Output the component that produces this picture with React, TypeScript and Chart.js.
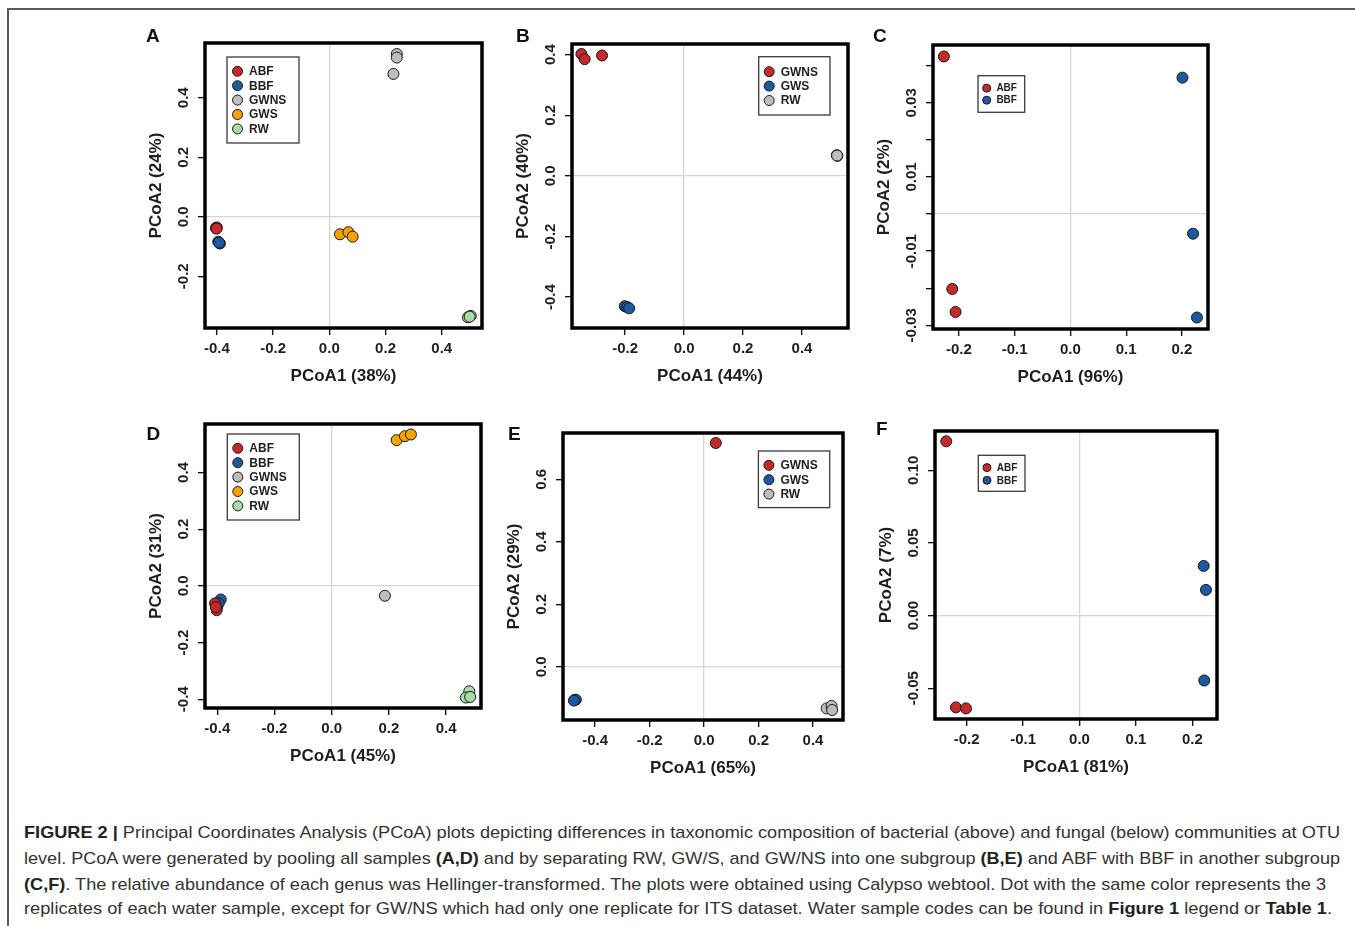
import React, { useEffect, useLayoutEffect, useRef } from "react";
import { Chart, registerables } from "chart.js";
Chart.register(...registerables);

// ---------- colours ----------
const RED = "#c42a2c";
const BLUE = "#1b5a9f";
const GRAY = "#bdbdbd";
const ORANGE = "#f5a200";
const GREEN = "#a8dca6";
const TEXT = "#1e1e1e";
const FAMILY = '"Liberation Sans", Arial, Helvetica, sans-serif';

// ---------- Panel A (bacteria, all samples) ----------
const aGroups = ["ABF", "BBF", "GWNS", "GWS", "RW"];
const aABF = [[-0.403, -0.038], [-0.4, -0.036], [-0.401, -0.04]];
const aBBF = [[-0.395, -0.084], [-0.389, -0.09], [-0.392, -0.087]];
const aGWNS = [[0.24, 0.547], [0.24, 0.535], [0.228, 0.48]];
const aGWS = [[0.038, -0.059], [0.068, -0.052], [0.083, -0.067]];
const aRW = [[0.493, -0.338], [0.503, -0.333], [0.499, -0.336]];
const aXTicks = [-0.4, -0.2, 0, 0.2, 0.4];
const aYTicks = [-0.2, 0, 0.2, 0.4];

// ---------- Panel B (bacteria, RW / GW subgroup) ----------
const bGroups = ["GWNS", "GWS", "RW"];
const bGWNS = [[-0.348, 0.402], [-0.337, 0.385], [-0.278, 0.397]];
const bGWS = [[-0.201, -0.43], [-0.193, -0.433], [-0.186, -0.437]];
const bRW = [[0.518, 0.068], [0.52, 0.066], [0.519, 0.067]];
const bXTicks = [-0.2, 0, 0.2, 0.4];
const bYTicks = [-0.4, -0.2, 0, 0.2, 0.4];

// ---------- Panel C (bacteria, ABF / BBF subgroup) ----------
const cGroups = ["ABF", "BBF"];
const cABF = [[-0.227, 0.0425], [-0.212, -0.0202], [-0.206, -0.0264]];
const cBBF = [[0.201, 0.0368], [0.22, -0.0053], [0.227, -0.0279]];
const cXTicks = [-0.2, -0.1, 0, 0.1, 0.2];
const cYTicks = [-0.03, -0.02, -0.01, 0, 0.01, 0.02, 0.03, 0.04];
const cYLabels = [-0.03, -0.01, 0.01, 0.03];

// ---------- Panel D (fungi, all samples) ----------
const dGroups = ["ABF", "BBF", "GWNS", "GWS", "RW"];
const dABF = [[-0.408, -0.062], [-0.402, -0.086], [-0.405, -0.075]];
const dBBF = [[-0.388, -0.048], [-0.4, -0.072], [-0.395, -0.062]];
const dGWNS = [[0.186, -0.035]];
const dGWS = [[0.227, 0.514], [0.256, 0.528], [0.277, 0.534]];
const dRW = [[0.481, -0.372], [0.469, -0.394], [0.484, -0.392]];
const dXTicks = [-0.4, -0.2, 0, 0.2, 0.4];
const dYTicks = [-0.4, -0.2, 0, 0.2, 0.4];

// ---------- Panel E (fungi, RW / GW subgroup) ----------
const eGroups = ["GWNS", "GWS", "RW"];
const eGWNS = [[0.043, 0.716]];
const eGWS = [[-0.476, -0.106], [-0.471, -0.105], [-0.478, -0.108]];
const eRW = [[0.45, -0.133], [0.468, -0.125], [0.47, -0.138]];
const eXTicks = [-0.4, -0.2, 0, 0.2, 0.4];
const eYTicks = [0, 0.2, 0.4, 0.6];

// ---------- Panel F (fungi, ABF / BBF subgroup) ----------
const fGroups = ["ABF", "BBF"];
const fABF = [[-0.236, 0.12], [-0.219, -0.0632], [-0.201, -0.0639]];
const fBBF = [[0.22, 0.0342], [0.224, 0.0177], [0.221, -0.0447]];
const fXTicks = [-0.2, -0.1, 0, 0.1, 0.2];
const fYTicks = [-0.05, 0, 0.05, 0.1];

const toPts = (arr: number[][]) => arr.map(([x, y]) => ({ x, y }));

const AX = 59; // reserved axis size (px)
const PT = 10; // top padding
const PR = 10; // right padding

const bigLegend = { first: 14.3, row: 14.4, cx: 10.5, r: 5, tx: 22, fs: 12 };
const smallLegend = { first: 12.5, row: 12, cx: 8.7, r: 4, tx: 18.4, fs: 10 };

const panels = [
  {
    letter: "A", lx: 146, ly: 26,
    frame: { l: 205, t: 43, r: 482, b: 328 },
    xr: [-0.442, 0.543], yr: [-0.374, 0.584],
    groups: aGroups, series: [aABF, aBBF, aGWNS, aGWS, aRW], colors: [RED, BLUE, GRAY, ORANGE, GREEN],
    xTicks: aXTicks, yTicks: aYTicks, yLabels: aYTicks, xDec: 1, yDec: 1,
    xTitle: "PCoA1 (38%)", yTitle: "PCoA2 (24%)",
    legend: { ...bigLegend, anchor: "left", dx: 22, dy: 14, w: 72, h: 86 },
  },
  {
    letter: "B", lx: 516, ly: 26,
    frame: { l: 572, t: 44, r: 848, b: 328 },
    xr: [-0.38, 0.556], yr: [-0.502, 0.435],
    groups: bGroups, series: [bGWNS, bGWS, bRW], colors: [RED, BLUE, GRAY],
    xTicks: bXTicks, yTicks: bYTicks, yLabels: bYTicks, xDec: 1, yDec: 1,
    xTitle: "PCoA1 (44%)", yTitle: "PCoA2 (40%)",
    legend: { ...bigLegend, anchor: "right", dx: 18, dy: 12.7, w: 71.3, h: 58.3, first: 15 },
  },
  {
    letter: "C", lx: 873, ly: 26,
    frame: { l: 933, t: 45, r: 1208, b: 329 },
    xr: [-0.2465, 0.2468], yr: [-0.031, 0.0456],
    groups: cGroups, series: [cABF, cBBF], colors: [RED, BLUE],
    xTicks: cXTicks, yTicks: cYTicks, yLabels: cYLabels, xDec: 1, yDec: 2,
    xTitle: "PCoA1 (96%)", yTitle: "PCoA2 (2%)",
    legend: { ...smallLegend, anchor: "left", dx: 45, dy: 30.7, w: 46.7, h: 36.6 },
  },
  {
    letter: "D", lx: 146.5, ly: 424,
    frame: { l: 205, t: 424, r: 481, b: 708 },
    xr: [-0.443, 0.522], yr: [-0.431, 0.571],
    groups: dGroups, series: [dABF, dBBF, dGWNS, dGWS, dRW], colors: [RED, BLUE, GRAY, ORANGE, GREEN],
    xTicks: dXTicks, yTicks: dYTicks, yLabels: dYTicks, xDec: 1, yDec: 1,
    xTitle: "PCoA1 (45%)", yTitle: "PCoA2 (31%)",
    legend: { ...bigLegend, anchor: "left", dx: 22.3, dy: 10, w: 72, h: 86 },
  },
  {
    letter: "E", lx: 508, ly: 424,
    frame: { l: 563, t: 433, r: 843, b: 720 },
    xr: [-0.518, 0.51], yr: [-0.17, 0.748],
    groups: eGroups, series: [eGWNS, eGWS, eRW], colors: [RED, BLUE, GRAY],
    xTicks: eXTicks, yTicks: eYTicks, yLabels: eYTicks, xDec: 1, yDec: 1,
    xTitle: "PCoA1 (65%)", yTitle: "PCoA2 (29%)",
    legend: { ...bigLegend, anchor: "right", dx: 13.3, dy: 18, w: 71.3, h: 56.6 },
  },
  {
    letter: "F", lx: 876, ly: 419,
    frame: { l: 935, t: 431, r: 1217, b: 719 },
    xr: [-0.256, 0.2436], yr: [-0.0712, 0.1271],
    groups: fGroups, series: [fABF, fBBF], colors: [RED, BLUE],
    xTicks: fXTicks, yTicks: fYTicks, yLabels: fYTicks, xDec: 1, yDec: 2,
    xTitle: "PCoA1 (81%)", yTitle: "PCoA2 (7%)",
    legend: { ...smallLegend, anchor: "left", dx: 43.3, dy: 24.3, w: 46.7, h: 36, first: 12.3, row: 12.7 },
  },
];

const pcoaPlugin = {
  id: "pcoa",
  afterDraw(chart: any, _args: any, opts: any) {
    const { ctx, chartArea: ca } = chart;
    const yScale = chart.scales.y;
    ctx.save();
    // rotated y tick labels (R style)
    ctx.font = `bold 15px ${FAMILY}`;
    ctx.fillStyle = TEXT;
    ctx.textAlign = "center";
    ctx.textBaseline = "middle";
    for (const v of opts.yLabels) {
      const py = yScale.getPixelForValue(v);
      ctx.save();
      ctx.translate(ca.left - 21, py);
      ctx.rotate(-Math.PI / 2);
      ctx.fillText(Number(v).toFixed(opts.yDec), 0, 0);
      ctx.restore();
    }
    // thick frame
    ctx.lineWidth = 3.5;
    ctx.strokeStyle = "#000";
    ctx.strokeRect(ca.left, ca.top, ca.right - ca.left, ca.bottom - ca.top);
    // legend box
    const L = opts.legend;
    const bx = L.anchor === "left" ? ca.left + L.dx : ca.right - L.dx - L.w;
    const by = ca.top + L.dy;
    ctx.fillStyle = "#fff";
    ctx.fillRect(bx, by, L.w, L.h);
    ctx.lineWidth = 1.3;
    ctx.strokeStyle = "#3a3a3a";
    ctx.strokeRect(bx, by, L.w, L.h);
    chart.data.datasets.forEach((ds: any, i: number) => {
      const cy = by + L.first + i * L.row;
      ctx.beginPath();
      ctx.arc(bx + L.cx, cy, L.r, 0, Math.PI * 2);
      ctx.fillStyle = ds.backgroundColor;
      ctx.fill();
      ctx.lineWidth = 1;
      ctx.strokeStyle = "#1a1a1a";
      ctx.stroke();
      ctx.fillStyle = TEXT;
      ctx.font = `bold ${L.fs}px ${FAMILY}`;
      ctx.textAlign = "left";
      ctx.textBaseline = "middle";
      ctx.fillText(ds.label, bx + L.tx, cy + 0.5);
    });
    ctx.restore();
  },
};

function Panel({ p }: { p: any }) {
  const ref = useRef<HTMLCanvasElement>(null);
  const { frame } = p;
  const left = frame.l - AX;
  const top = frame.t - PT;
  const w = frame.r - frame.l + AX + PR;
  const h = frame.b - frame.t + PT + AX;

  useEffect(() => {
    if (!ref.current) return;
    const gridColor = (c: any) => (c.tick && c.tick.value === 0 ? "#d6d6d6" : "rgba(0,0,0,0)");
    const tickFont = { family: FAMILY, size: 15, weight: "bold" as const };
    const titleFont = { family: FAMILY, size: 17, weight: "bold" as const };
    const chart = new Chart(ref.current, {
      type: "scatter",
      data: {
        datasets: p.groups.map((g: string, i: number) => ({
          label: g,
          data: toPts(p.series[i]),
          backgroundColor: p.colors[i],
          borderColor: "#1a1a1a",
          borderWidth: 1,
          pointRadius: 5.5,
          pointHoverRadius: 5.5,
        })),
      },
      options: {
        responsive: false,
        animation: false,
        devicePixelRatio: 1,
        events: [],
        layout: { padding: { top: PT, right: PR, left: 0, bottom: 0 } },
        plugins: {
          legend: { display: false },
          tooltip: { enabled: false },
          pcoa: { yLabels: p.yLabels, yDec: p.yDec, legend: p.legend },
        } as any,
        scales: {
          x: {
            type: "linear",
            min: p.xr[0],
            max: p.xr[1],
            afterBuildTicks: (s: any) => {
              s.ticks = p.xTicks.map((v: number) => ({ value: v }));
            },
            afterFit: (s: any) => {
              s.height = AX;
              s.paddingLeft = 0;
              s.paddingRight = 0;
            },
            border: { display: false },
            grid: {
              color: gridColor,
              lineWidth: 1.3,
              tickColor: "#111",
              tickWidth: 1.4,
              tickLength: 7,
              drawTicks: true,
            },
            ticks: {
              font: tickFont,
              color: TEXT,
              padding: 5,
              autoSkip: false,
              maxRotation: 0,
              minRotation: 0,
              callback: (v: any) => Number(v).toFixed(p.xDec),
            },
            title: { display: true, text: p.xTitle, font: titleFont, color: TEXT, padding: 0 },
          },
          y: {
            type: "linear",
            min: p.yr[0],
            max: p.yr[1],
            afterBuildTicks: (s: any) => {
              s.ticks = p.yTicks.map((v: number) => ({ value: v }));
            },
            afterFit: (s: any) => {
              s.width = AX;
              s.paddingTop = 0;
              s.paddingBottom = 0;
            },
            border: { display: false },
            grid: {
              color: gridColor,
              lineWidth: 1.3,
              tickColor: "#111",
              tickWidth: 1.4,
              tickLength: 7,
              drawTicks: true,
            },
            ticks: { display: false },
            title: { display: true, text: p.yTitle, font: titleFont, color: TEXT, padding: 0 },
          },
        },
      } as any,
      plugins: [pcoaPlugin],
    });
    return () => chart.destroy();
  }, []);

  return (
    <>
      <canvas
        ref={ref}
        width={w}
        height={h}
        style={{ position: "absolute", left, top, width: w, height: h }}
      />
      <div
        style={{
          position: "absolute",
          left: p.lx,
          top: p.ly,
          font: `bold 19px ${FAMILY}`,
          lineHeight: "19px",
          color: "#111",
        }}
      >
        {p.letter}
      </div>
    </>
  );
}

function CaptionLine({ top, width, children }: { top: number; width: number; children: any }) {
  const ref = useRef<HTMLSpanElement>(null);
  useLayoutEffect(() => {
    const el = ref.current;
    if (!el) return;
    el.style.transform = "none";
    const w = el.getBoundingClientRect().width;
    if (w > 0) el.style.transform = `scaleX(${width / w})`;
  }, [width]);
  return (
    <span
      ref={ref}
      style={{
        position: "absolute",
        left: 24,
        top,
        whiteSpace: "nowrap",
        display: "inline-block",
        transformOrigin: "0 0",
        font: `17px ${FAMILY}`,
        lineHeight: "20px",
        color: "#333",
      }}
    >
      {children}
    </span>
  );
}

export default function App() {
  return (
    <div
      style={{
        position: "absolute",
        left: 0,
        top: 0,
        width: 1355,
        height: 926,
        overflow: "hidden",
        background: "#fff",
      }}
    >
      <div
        style={{
          position: "absolute",
          left: 7,
          top: 8,
          width: 1360,
          height: 940,
          borderTop: "2px solid #5a5a5a",
          borderLeft: "2px solid #5a5a5a",
        }}
      />
      {panels.map((p) => (
        <Panel key={p.letter} p={p} />
      ))}
      <CaptionLine top={823} width={1316}>
        <b style={{ color: "#222" }}>FIGURE 2 |</b> Principal Coordinates Analysis (PCoA) plots depicting differences in taxonomic composition of bacterial (above) and fungal (below) communities at OTU
      </CaptionLine>
      <CaptionLine top={849} width={1316}>
        level. PCoA were generated by pooling all samples <b style={{ color: "#222" }}>(A,D)</b> and by separating RW, GW/S, and GW/NS into one subgroup <b style={{ color: "#222" }}>(B,E)</b> and ABF with BBF in another subgroup
      </CaptionLine>
      <CaptionLine top={875} width={1302}>
        <b style={{ color: "#222" }}>(C,F)</b>. The relative abundance of each genus was Hellinger-transformed. The plots were obtained using Calypso webtool. Dot with the same color represents the 3
      </CaptionLine>
      <CaptionLine top={899} width={1308}>
        replicates of each water sample, except for GW/NS which had only one replicate for ITS dataset. Water sample codes can be found in <b style={{ color: "#222" }}>Figure 1</b> legend or <b style={{ color: "#222" }}>Table 1</b>.
      </CaptionLine>
    </div>
  );
}
